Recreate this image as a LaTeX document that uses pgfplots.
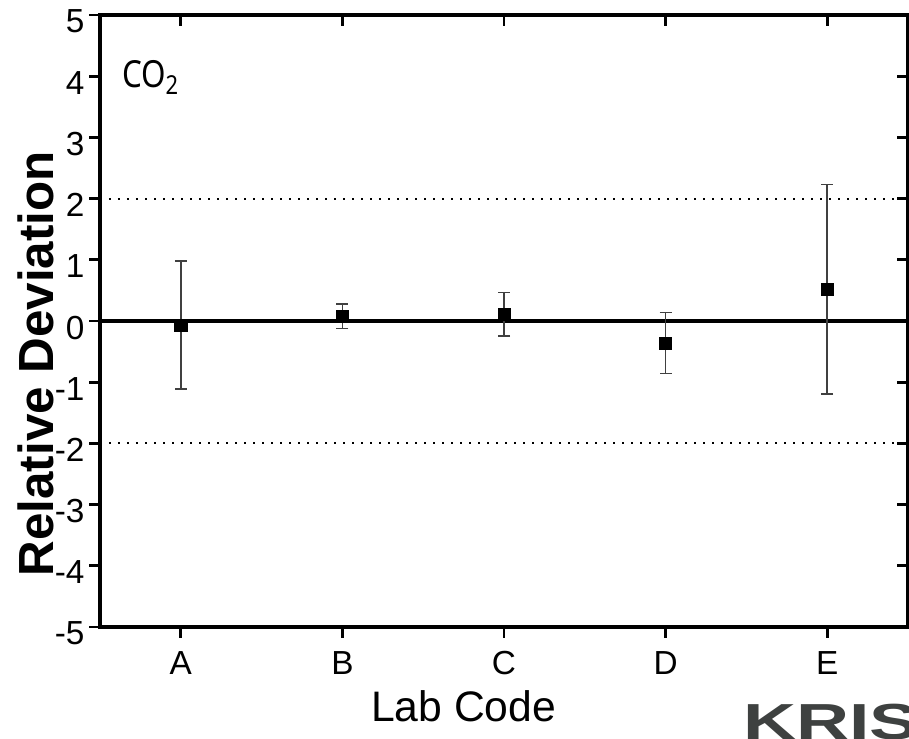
\documentclass[border=0pt]{standalone}
\usepackage{pgfplots}
\pgfplotsset{compat=1.18}
\usepackage{fontspec}
\setmainfont{Liberation Sans}
\newfontfamily\cofont{Noto Sans}
\definecolor{logo}{HTML}{3E4140}

\begin{document}
\begin{tikzpicture}
  \path[use as bounding box] (-75pt,-83.25pt) rectangle (606.75pt,470.25pt);
  \clip (-75pt,-83.25pt) rectangle (606.75pt,470.25pt);
  % overlay axis: inward ticks on top and right
  \begin{axis}[scale only axis, width=606pt, height=459pt,
      xmin=0.5, xmax=5.5, ymin=-5, ymax=5,
      xtick={1,...,5}, ytick={-5,...,5},
      xticklabels={}, yticklabels={},
      tick align=inside, xtick pos=top, ytick pos=right,
      major tick length=8pt, tick style={line width=2pt, black},
      axis line style={draw=none}]
  \end{axis}
  \begin{axis}[scale only axis, width=606pt, height=459pt,
      xmin=0.5, xmax=5.5, ymin=-5, ymax=5,
      xtick={1,...,5}, xticklabels={A,B,C,D,E},
      ytick={-5,...,5}, yticklabels={-5,-4,-3,-2,-1,0,1,2,3,4,5},
      tick align=outside, xtick pos=bottom, ytick pos=left,
      major tick length=8pt, tick style={line width=2pt, black},
      axis line style={line width=2.4pt},
      ticklabel style={font=\fontsize{25}{28}\selectfont},
      yticklabel style={yshift=-5pt, inner sep=0pt, xshift=-3.5pt},
      xticklabel style={yshift=-10pt, inner sep=0pt},
      xlabel={Lab Code},
      ylabel={\bfseries Relative Deviation},
      every axis x label/.style={at={(axis description cs:0.45,-0.155)}, anchor=base,
        font=\fontsize{32}{36}\selectfont},
      every axis y label/.style={at={(axis description cs:-0.058,0.43)}, rotate=90, anchor=base,
        font=\fontsize{37}{40}\selectfont},
      clip=false]
    \addplot[line width=1.5pt, dash pattern=on 1.5pt off 5.25pt] coordinates {(0.5,2) (5.5,2)};
    \addplot[line width=1.5pt, dash pattern=on 1.5pt off 5.25pt] coordinates {(0.5,-2) (5.5,-2)};
    \addplot[line width=2.4pt] coordinates {(0.5,0) (5.5,0)};
    \addplot[only marks, mark=square*, mark size=4.6pt, black,
        error bars/.cd, y dir=both, y explicit,
        error bar style={line width=1.2pt, color=black!75},
        error mark options={rotate=90, mark size=4.5pt, line width=1.2pt, color=black!75}]
      coordinates {
        (1,-0.065) +- (0,1.05)
        (2,0.08)   +- (0,0.2)
        (3,0.11)   +- (0,0.355)
        (4,-0.36)  +- (0,0.5)
        (5,0.52)   +- (0,1.71)
      };
    \node[anchor=base west, inner sep=0pt, xscale=0.84, font=\cofont\fontsize{28}{30}\selectfont]
      at (axis cs:0.635,3.82) {CO\textsubscript{2}};
  \end{axis}
  \node[anchor=base west, inner sep=0pt, text=logo, xscale=1.45,
    font=\bfseries\fontsize{38}{40}\selectfont] at (482pt,-84pt) {KRIS};
\end{tikzpicture}
\end{document}
